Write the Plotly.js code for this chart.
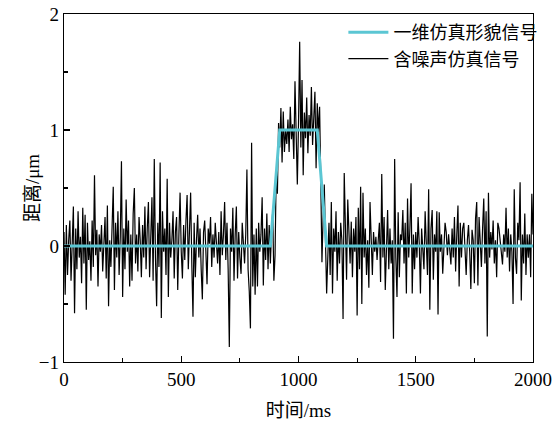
<!DOCTYPE html>
<html>
<head>
<meta charset="utf-8">
<script src="https://cdn.plot.ly/plotly-3.0.1.min.js"></script>
<style>html,body{margin:0;padding:0;background:#fff;}#chart{width:560px;height:423px;}</style>
</head>
<body>
<div id="chart"></div>
<script>
// Noisy signal: sampled every 5 ms from 0 to 2000 ms
const tStart = 0;
const tStep = 5;
const noisyValues = [
 0.12,-0.42,0.18,-0.25,0.05,0.22,-0.30,0.10,0.34,-0.58,0.15,-0.20,0.30,-0.10,0.08,-0.32,0.33,-0.15,0.27,-0.55,
 0.20,-0.12,0.04,-0.30,0.22,-0.18,0.61,-0.08,0.14,-0.35,0.10,-0.05,0.18,-0.22,0.02,0.25,-0.28,0.35,-0.52,0.05,
 -0.18,0.12,0.51,-0.38,0.20,-0.10,0.30,-0.25,0.08,0.73,-0.44,0.15,-0.20,0.40,-0.05,0.22,-0.35,0.10,-0.30,0.28,
 0.50,-0.15,0.10,-0.22,0.25,0.05,-0.27,0.18,-0.10,0.34,-0.20,0.15,0.38,-0.27,0.12,0.42,-0.30,0.75,-0.10,-0.52,
 0.20,-0.18,0.72,-0.62,0.30,-0.05,0.15,-0.25,0.58,-0.44,0.20,-0.10,0.05,0.30,-0.28,0.12,0.25,-0.38,0.10,0.46,
 -0.05,-0.28,0.18,-0.12,0.22,0.44,-0.20,0.10,0.46,-0.15,-0.61,0.20,-0.27,0.05,0.27,-0.10,0.15,-0.20,-0.46,0.12,
 0.22,-0.05,-0.33,0.15,0.02,0.25,-0.18,0.10,-0.10,0.20,0.05,-0.15,0.12,-0.25,0.30,-0.08,0.10,0.38,-0.12,0.20,
 -0.20,-0.87,0.15,-0.05,0.33,-0.30,0.10,0.34,-0.28,0.12,-0.10,-0.24,0.20,0.05,-0.15,0.10,0.66,-0.20,-0.39,-0.71,
 0.89,-0.35,0.10,-0.42,0.15,-0.35,0.20,-0.05,0.10,0.42,-0.34,0.15,-0.12,0.28,-0.20,0.18,-0.15,0.12,0.30,-0.30,
 -0.08,0.64,0.45,1.06,0.85,1.19,0.72,1.16,0.81,1.00,0.88,1.09,0.81,1.20,0.92,1.05,0.75,1.42,0.90,0.53,
 1.05,1.76,0.85,1.43,0.61,1.15,0.93,1.28,0.80,1.13,0.95,1.37,0.87,1.10,1.33,0.67,1.23,0.98,1.20,0.55,
 -0.14,0.25,0.53,0.05,-0.41,-0.10,0.20,-0.25,0.38,-0.41,0.15,-0.05,0.30,-0.30,0.12,-0.15,0.20,0.05,-0.63,0.63,
 0.10,-0.29,0.40,0.05,-0.15,0.21,-0.27,0.15,-0.05,0.25,-0.60,0.33,-0.20,0.51,-0.50,0.46,-0.10,0.15,-0.25,0.05,
 -0.36,0.38,0.02,-0.25,0.12,-0.05,0.08,-0.12,0.05,0.20,-0.31,0.62,-0.10,0.25,-0.38,0.10,0.31,-0.20,0.15,-0.15,
 0.05,-0.80,0.75,-0.10,-0.44,0.29,-0.27,0.10,0.05,0.31,-0.15,0.20,-0.41,0.41,-0.10,0.15,0.54,-0.41,0.10,-0.20,
 0.12,-0.10,0.25,0.02,-0.41,0.15,-0.05,-0.20,0.30,0.05,-0.25,0.49,-0.55,0.15,0.31,-0.29,0.10,-0.05,0.30,-0.59,
 0.29,-0.05,0.10,-0.24,0.05,0.20,0.12,-0.08,0.10,-0.05,-0.16,0.15,-0.10,0.25,-0.22,0.10,0.35,-0.35,0.20,-0.10,
 0.15,0.20,-0.10,-0.25,0.05,0.18,-0.05,-0.37,0.14,0.05,-0.32,0.24,0.38,-0.34,0.25,-0.05,-0.18,0.15,0.41,-0.15,
 0.30,-0.78,0.46,-0.10,0.12,-0.03,0.22,-0.15,0.05,-0.27,0.20,0.15,0.05,-0.10,-0.16,0.10,-0.05,0.33,-0.10,0.15,
 -0.22,0.10,-0.05,-0.50,0.49,-0.10,-0.24,0.20,0.05,0.55,-0.47,0.10,-0.15,0.28,-0.25,0.10,-0.10,0.10,-0.27,0.45,
 0.10
];
// Ideal 1-D profile (trapezoid)
const profileTime = [0, 880, 920, 1080, 1120, 2000];
const profileValue = [0, 0, 1, 1, 0, 0];

const seriesNames = ['一维仿真形貌信号', '含噪声仿真信号'];
const xTitle = '时间/ms';
const yTitle = '距离/μm';

const noisyTime = noisyValues.map((_, i) => tStart + i * tStep);

const serif = 'Liberation Serif, Noto Sans CJK SC, serif';
const cjk = 'Noto Sans CJK SC, sans-serif';

const traces = [
  {x: noisyTime, y: noisyValues, type: 'scatter', mode: 'lines', name: seriesNames[1],
   line: {color: '#000000', width: 1.2}},
  {x: profileTime, y: profileValue, type: 'scatter', mode: 'lines', name: seriesNames[0],
   line: {color: '#5BC6D3', width: 3}}
];

const axisCommon = {
  showline: true, linecolor: '#000', linewidth: 1.3, mirror: true,
  showgrid: false, zeroline: false,
  ticks: 'inside', ticklen: 6, tickwidth: 1.2, tickcolor: '#000',
  tickfont: {family: serif, size: 19, color: '#000'}
};

const layout = {
  width: 560, height: 423,
  margin: {l: 64, r: 27, t: 14, b: 61},
  paper_bgcolor: '#fff', plot_bgcolor: '#fff',
  showlegend: true,
  legend: {x: 1.02, xanchor: 'right', y: 1, yanchor: 'top', traceorder: 'reversed',
           bgcolor: 'rgba(0,0,0,0)', font: {family: cjk, size: 18, color: '#000'},
           itemwidth: 40},
  xaxis: Object.assign({}, axisCommon, {
    range: [0, 2000], tick0: 0, dtick: 500,
    minor: {dtick: 250, ticks: 'inside', ticklen: 4, tickcolor: '#000', tickwidth: 1.2},
    title: {text: xTitle, font: {family: serif, size: 19, color: '#000'}, standoff: 14}
  }),
  yaxis: Object.assign({}, axisCommon, {
    range: [-1, 2], tick0: 0, dtick: 1,
    minor: {dtick: 0.5, ticks: 'inside', ticklen: 4, tickcolor: '#000', tickwidth: 1.2}
  }),
  annotations: [{
    text: yTitle, xref: 'paper', yref: 'paper', x: -0.068, y: 0.5,
    xanchor: 'center', yanchor: 'middle', textangle: -90, showarrow: false,
    font: {family: serif, size: 19, color: '#000'}
  }]
};

Plotly.newPlot('chart', traces, layout, {displayModeBar: false, staticPlot: true});
</script>
</body>
</html>
